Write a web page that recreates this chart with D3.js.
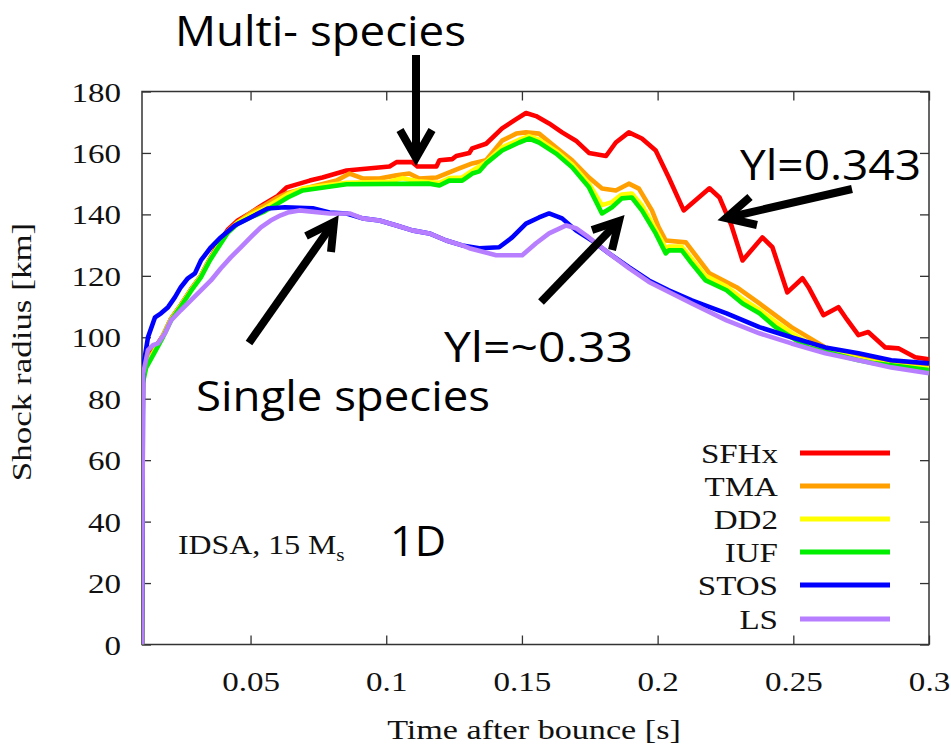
<!DOCTYPE html>
<html>
<head>
<meta charset="utf-8">
<script src="https://cdn.jsdelivr.net/npm/d3@7"></script>
<style>
  html, body { margin: 0; padding: 0; background: #fff; }
  svg { display: block; }
</style>
</head>
<body>
<script>
// ---------- data ----------
const seriesNames = ["SFHx", "TMA", "DD2", "IUF", "STOS", "LS"];
const seriesColors = ["#ff0000", "#ff9f00", "#ffff00", "#00ee00", "#0000ff", "#b77fff"];

const SFHx = [[0.0100,0],[0.0103,87],[0.0115,93],[0.014,95.5],[0.0177,100.5],[0.0207,106],[0.0243,110.5],[0.028,115.5],[0.0317,120],[0.035,125.5],[0.0379,130],[0.0416,135],[0.0453,138],[0.05,140.5],[0.0552,143.5],[0.06,146],[0.0633,148.8],[0.0718,151],[0.0765,152],[0.0854,154.3],[0.1012,155.6],[0.1038,157],[0.1096,157],[0.1115,155.6],[0.1185,155.6],[0.1196,157.6],[0.1243,158],[0.1258,159],[0.1306,160],[0.1317,161.5],[0.1368,163],[0.1427,168],[0.1479,171],[0.1515,173],[0.1552,172],[0.16,169.6],[0.1648,166.7],[0.1699,164],[0.1747,160],[0.181,159],[0.1846,163.4],[0.1894,166.7],[0.1942,164.7],[0.1993,160.8],[0.2041,152],[0.2096,141.3],[0.2191,148.5],[0.2228,145.5],[0.2272,136.4],[0.2313,125],[0.2386,132.5],[0.2423,129.3],[0.2478,114.6],[0.2534,119.2],[0.2556,116.3],[0.2611,107.2],[0.2666,109.8],[0.2692,106.5],[0.274,100.7],[0.2776,101.7],[0.2839,96.7],[0.2887,96.4],[0.2949,93.5],[0.3,92.8]];

const TMA = [[0.0100,0],[0.0103,86],[0.0115,92],[0.014,95],[0.0177,100.5],[0.0207,106],[0.0243,110.5],[0.028,115.5],[0.0317,120],[0.035,125.5],[0.0379,129.5],[0.0416,134.5],[0.0453,137.5],[0.05,140.5],[0.0552,143],[0.06,145.5],[0.0637,147],[0.0718,148.8],[0.0817,151],[0.0865,153.3],[0.0913,151.7],[0.0975,151.7],[0.1038,152.7],[0.1085,153.3],[0.1122,151.7],[0.1185,152],[0.1221,153.3],[0.1269,155],[0.1317,156.6],[0.1368,157.6],[0.1427,164],[0.1479,166.3],[0.1515,166.7],[0.1563,166.3],[0.1626,161.8],[0.1685,157.6],[0.1747,152],[0.1795,148.4],[0.1846,147.8],[0.1894,150],[0.1931,148.4],[0.1979,141.3],[0.2004,135.8],[0.203,131.5],[0.2104,130.9],[0.2191,120.8],[0.2291,116.3],[0.2375,111],[0.2493,103.3],[0.2618,96.7],[0.274,93.5],[0.2861,91.5],[0.3,90.5]];

const DD2 = [[0.0100,0],[0.0103,85.5],[0.0115,91],[0.014,94.5],[0.0177,100.3],[0.0207,105.8],[0.0243,110.3],[0.028,115.3],[0.0317,119.8],[0.035,125.3],[0.0379,129.3],[0.0416,134.3],[0.0453,137.3],[0.05,139.8],[0.0552,142],[0.06,144.5],[0.0637,146.5],[0.0692,148.5],[0.0854,150.3],[0.1012,150.6],[0.106,151.8],[0.1115,150.8],[0.1196,150.3],[0.1232,151.8],[0.128,152],[0.1317,154.2],[0.1368,157],[0.1427,161.8],[0.149,164.3],[0.1526,165.5],[0.1563,164.3],[0.1626,160.6],[0.1685,156.2],[0.1747,150],[0.1795,143],[0.1832,144],[0.1868,146.5],[0.1905,146.8],[0.1942,143],[0.1993,135],[0.203,129],[0.2041,129.5],[0.2089,129.5],[0.2126,125.5],[0.2177,120],[0.2254,116.5],[0.2313,112.5],[0.2375,109],[0.2435,105],[0.2493,101.5],[0.2556,98],[0.264,95.5],[0.274,93],[0.2861,91],[0.3,89.8]];

const IUF = [[0.0100,0],[0.0103,85],[0.0115,90],[0.014,94],[0.0177,100],[0.0207,105.5],[0.0243,110],[0.028,115],[0.0317,119.5],[0.035,125],[0.0379,129],[0.0416,134],[0.0453,137],[0.05,139],[0.0552,141],[0.06,143.5],[0.0637,145.5],[0.0692,147.8],[0.0854,149.8],[0.1159,150],[0.1196,149.4],[0.1232,151],[0.128,151],[0.1317,153.3],[0.1343,154],[0.1368,156.6],[0.1427,160.8],[0.149,163.4],[0.1526,164.7],[0.1563,163.4],[0.1626,159.8],[0.1685,155.3],[0.1747,148.8],[0.1795,140.3],[0.1832,142.3],[0.1868,145.2],[0.1905,145.5],[0.1942,141.3],[0.1993,133.8],[0.203,127.3],[0.2041,128.3],[0.2089,128.3],[0.2126,124],[0.2177,118.5],[0.2254,115.3],[0.2313,111],[0.2375,107.8],[0.2435,103.3],[0.2493,100],[0.2556,96.7],[0.264,94.8],[0.274,92.5],[0.2802,91.5],[0.3,89.3]];

const STOS = [[0.0100,0],[0.0104,90],[0.0122,100],[0.0148,106.5],[0.017,107.8],[0.0196,109.8],[0.0221,113],[0.0243,116.3],[0.0269,119.2],[0.0295,120.8],[0.0317,125],[0.0354,129.3],[0.039,132.5],[0.0442,136.4],[0.05,139],[0.0563,141.9],[0.0626,142.3],[0.0729,142],[0.0791,140.6],[0.0854,140.3],[0.0913,138.7],[0.0975,138],[0.1038,136.4],[0.1096,134.8],[0.1159,133.8],[0.1221,131.5],[0.128,129.9],[0.1343,129],[0.1416,129.3],[0.1464,132.5],[0.1515,137],[0.1563,139],[0.16,140.3],[0.1648,138.7],[0.1699,134.8],[0.1758,131.5],[0.1821,127.3],[0.1894,122.8],[0.1968,118.5],[0.2041,115.3],[0.2126,112],[0.2254,107.8],[0.2375,103.3],[0.2493,100],[0.2618,96.7],[0.274,94.8],[0.2861,92.5],[0.3,91.5]];

const LS = [[0.0100,0],[0.0104,88],[0.0122,95.8],[0.014,97.4],[0.0159,98],[0.0185,101.3],[0.0207,105.5],[0.0243,108.8],[0.028,112],[0.0317,115.3],[0.0354,118.5],[0.039,122.4],[0.0427,126],[0.0464,129.3],[0.05,132.5],[0.0538,135.8],[0.0574,138],[0.0611,139.7],[0.0637,140.6],[0.068,141.3],[0.0791,140.3],[0.0865,140.3],[0.0913,138.7],[0.0975,138],[0.1038,136.4],[0.1096,134.8],[0.1159,133.8],[0.1221,131.5],[0.128,129.9],[0.1306,129],[0.1405,126.7],[0.1501,126.7],[0.1552,130.6],[0.16,133.8],[0.1663,136.4],[0.1699,135.5],[0.1747,132.5],[0.1821,127.3],[0.1894,122.5],[0.1968,118],[0.2126,111],[0.2254,105.5],[0.2375,101.3],[0.2493,98],[0.2618,94.8],[0.274,92.5],[0.2861,90.2],[0.3,88.3]];

const xTicks = [0.05, 0.1, 0.15, 0.2, 0.25, 0.3];
const xTickLabels = ["0.05", "0.1", "0.15", "0.2", "0.25", "0.3"];
const yTicks = [0, 20, 40, 60, 80, 100, 120, 140, 160, 180];
const xDomain = [0.01, 0.3];
const yDomain = [0, 180];

const xLabel = "Time after bounce [s]";
const yLabel = "Shock radius [km]";

// ---------- drawing ----------
(function () {
const W = 951, H = 747;
const pL = 142, pR = 929, pT = 91.5, pB = 644.5;
const serif = "'Liberation Serif', 'Times New Roman', serif";
const sans = "'Open Sans', 'Noto Sans', sans-serif";
const SX = 1.18;

const svg = d3.select("body").append("svg").attr("width", W).attr("height", H);

const x = d3.scaleLinear().domain(xDomain).range([pL, pR]);
const y = d3.scaleLinear().domain(yDomain).range([pB, pT]);

svg.append("clipPath").attr("id", "clip")
  .append("rect").attr("x", pL).attr("y", pT - 2).attr("width", pR - pL).attr("height", pB - pT + 2);

const tickLen = 9;
const gB = svg.append("g").attr("transform", `translate(0,${pB})`)
  .call(d3.axisBottom(x).tickValues(xTicks).tickFormat((d, i) => xTickLabels[i]).tickSize(-tickLen).tickPadding(0));
const gT = svg.append("g").attr("transform", `translate(0,${pT})`)
  .call(d3.axisTop(x).tickValues(xTicks).tickFormat("").tickSize(-tickLen));
const gL = svg.append("g").attr("transform", `translate(${pL},0)`)
  .call(d3.axisLeft(y).tickValues(yTicks).tickSize(-tickLen).tickPadding(0));
const gR = svg.append("g").attr("transform", `translate(${pR},0)`)
  .call(d3.axisRight(y).tickValues(yTicks).tickFormat("").tickSize(-tickLen));

[gB, gT, gL, gR].forEach(g => {
  g.select(".domain").remove();
  g.selectAll(".tick line").attr("stroke", "#333").attr("stroke-width", 1.3);
});

gB.selectAll(".tick text")
  .attr("font-family", serif).attr("font-size", 28).attr("fill", "#111")
  .attr("y", 27).attr("dy", "0.71em")
  .attr("transform", `scale(${SX},1)`);
gL.selectAll(".tick text")
  .attr("font-family", serif).attr("font-size", 28).attr("fill", "#111")
  .attr("x", -21 / SX).attr("dy", "0.34em")
  .attr("transform", `scale(${SX},1)`);

svg.append("rect").attr("x", pL).attr("y", pT).attr("width", pR - pL).attr("height", pB - pT)
  .attr("fill", "none").attr("stroke", "#333").attr("stroke-width", 1.5);

svg.append("text").attr("x", 534 / 1.22).attr("y", 739).attr("transform", `scale(1.22,1)`)
  .attr("text-anchor", "middle").attr("font-family", serif).attr("font-size", 28).attr("fill", "#111")
  .text(xLabel);
svg.append("text").attr("transform", `translate(31,352) rotate(-90) scale(1.25,1)`)
  .attr("text-anchor", "middle").attr("font-family", serif).attr("font-size", 28).attr("fill", "#111")
  .text(yLabel);

const line = d3.line().x(d => x(d[0])).y(d => y(d[1]));
const allSeries = [SFHx, TMA, DD2, IUF, STOS, LS];
const gLines = svg.append("g").attr("clip-path", "url(#clip)");
allSeries.forEach((s, i) => {
  gLines.append("path").datum(s).attr("d", line)
    .attr("fill", "none").attr("stroke", seriesColors[i]).attr("stroke-width", 4.6)
    .attr("stroke-linejoin", "round");
});

const legRowY = [453, 486, 519, 552, 585, 619];
seriesNames.forEach((n, i) => {
  svg.append("text").attr("x", 778 / SX).attr("y", legRowY[i]).attr("dy", "0.35em")
    .attr("transform", `scale(${SX},1)`)
    .attr("text-anchor", "end").attr("font-family", serif).attr("font-size", 28).attr("fill", "#111")
    .text(n);
  svg.append("line").attr("x1", 800).attr("x2", 890).attr("y1", legRowY[i]).attr("y2", legRowY[i])
    .attr("stroke", seriesColors[i]).attr("stroke-width", 5);
});

const idsa = svg.append("text").attr("x", 178 / SX).attr("y", 554).attr("transform", `scale(${SX},1)`)
  .attr("font-family", serif).attr("font-size", 27).attr("fill", "#111");
idsa.append("tspan").text("IDSA, 15 M");
idsa.append("tspan").attr("font-size", 18).attr("dy", 7).text("s");

function ann(txt, x0, x1, yb) {
  svg.append("text").attr("x", x0).attr("y", yb)
    .attr("font-family", sans).attr("font-size", 42).attr("fill", "#000")
    .attr("textLength", x1 - x0).attr("lengthAdjust", "spacingAndGlyphs")
    .text(txt);
}
ann("Multi- species", 175, 466, 46);
ann("Single species", 196, 490, 411);
ann("Yl=0.343", 740, 921, 180);
ann("Yl=~0.33", 444, 633, 362);
ann("1D", 390, 446, 556);

function arrow(x0, y0, x1, y1, a1, a2) {
  svg.append("line").attr("x1", x0).attr("y1", y0).attr("x2", x1).attr("y2", y1)
    .attr("stroke", "#000").attr("stroke-width", 8);
  svg.append("path").attr("d", `M${a1[0]},${a1[1]}L${x1},${y1}L${a2[0]},${a2[1]}`)
    .attr("fill", "none").attr("stroke", "#000").attr("stroke-width", 8).attr("stroke-linejoin", "miter");
}
arrow(416, 55, 416, 158, [400, 130], [432, 130]);
arrow(249, 343, 334, 222, [306, 236], [331, 252]);
arrow(852, 189, 726, 218, [750, 197], [757, 225]);
arrow(541, 302, 619, 221, [592, 230], [612, 250]);
})();
</script>
</body>
</html>
